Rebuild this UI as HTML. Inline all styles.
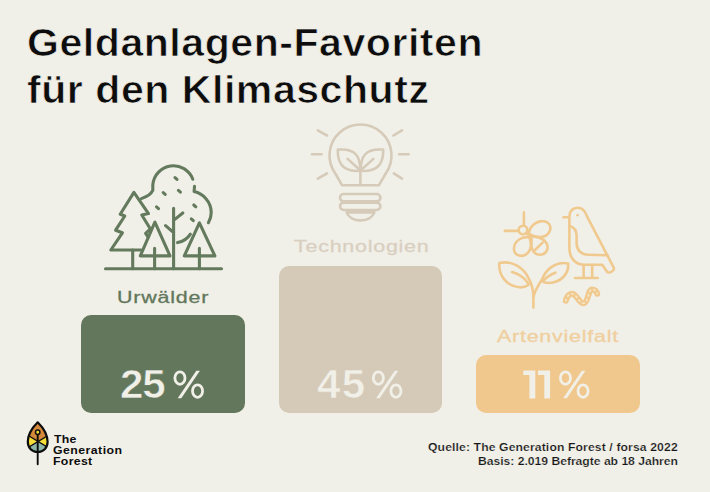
<!DOCTYPE html>
<html lang="de">
<head>
<meta charset="utf-8">
<title>Geldanlagen-Favoriten für den Klimaschutz</title>
<style>
  html, body { margin: 0; padding: 0; }
  body {
    width: 710px; height: 492px; overflow: hidden;
    background: #f1f0e8;
    font-family: "Liberation Sans", sans-serif;
    position: relative;
  }
  .t { position: absolute; white-space: nowrap; line-height: 1; transform-origin: 0 0; display: block; }
  .title { font-weight: bold; font-size: 38px; color: #0d0d0d; transform: scaleX(1.08); letter-spacing: 0.5px; -webkit-text-stroke: 0.7px #f1f0e8; }
  .bar { position: absolute; }
  .b1 { left: 81.2px; top: 314.8px; width: 164.1px; height: 98.6px; background: #62775b; border-radius: 10px; }
  .b2 { left: 279.1px; top: 265.8px; width: 162.8px; height: 147.6px; background: #d5c9b8; border-radius: 10px; }
  .b3 { left: 476.2px; top: 354.8px; width: 163.7px; height: 58.5px; background: #f0c78c; border-radius: 10px; }
  .lab { font-size: 16.5px; transform: scaleX(1.3); letter-spacing: 0.6px; -webkit-text-stroke: 0.3px currentColor; }
  .num { font-weight: bold; font-size: 40.5px; color: #f1f0e8; transform: scaleX(1.04); }
  .pct { font-weight: normal; font-size: 40px; color: transparent; transform: scaleX(0.95); }
  .ghost { color: transparent; }
  .src { font-weight: bold; font-size: 11.7px; color: #161616; transform: scaleX(1.04); letter-spacing: 0.12px; -webkit-text-stroke: 0.2px #f1f0e8; }
  .logo { font-weight: bold; font-size: 11.4px; color: #0d0d0d; transform: scaleX(1.08); letter-spacing: 0.3px; }
  svg { position: absolute; left: 0; top: 0; overflow: visible; }
</style>
</head>
<body>

<span class="t title" id="t1" style="left:27px; top:24.4px;">Geldanlagen-Favoriten</span>
<span class="t title" id="t2" style="left:26.8px; top:70.5px;">für den Klimaschutz</span>

<div class="bar b1"></div>
<div class="bar b2"></div>
<div class="bar b3"></div>

<span class="t lab" id="l1" style="left:116.7px; top:289.1px; letter-spacing:0.61px; color:#62775b;">Urwälder</span>
<span class="t lab" id="l2" style="left:293.6px; top:238px; letter-spacing:0.58px; color:#d9cfc1;">Technologien</span>
<span class="t lab" id="l3" style="left:497px; top:328.2px; letter-spacing:0.58px; color:#efcf9e;">Artenvielfalt</span>

<span class="t num" id="n1" style="left:120.4px; top:364.4px; letter-spacing:-1.04px; -webkit-text-stroke:0.6px #62775b;">25</span>
<span class="t pct" id="p1" style="left:172.2px; top:365.3px;">%</span>
<span class="t num" id="n2" style="left:316.9px; top:364.3px; letter-spacing:1.31px; -webkit-text-stroke:0.6px #d5c9b8;">45</span>
<span class="t pct" id="p2" style="left:370.6px; top:365.3px;">%</span>
<span class="t num ghost" id="n3" style="left:521.2px; top:365.2px; letter-spacing:-12px;">11</span>
<span class="t pct" id="p3" style="left:558px; top:365.3px;">%</span>

<span class="t src" id="s1" style="left:427.6px; top:441.4px; letter-spacing:0.12px;">Quelle: The Generation Forest / forsa 2022</span>
<span class="t src" id="s2" style="left:478.3px; top:455.2px; letter-spacing:-0.02px;">Basis: 2.019 Befragte ab 18 Jahren</span>

<span class="t logo" id="g1" style="left:53.6px; top:434.1px; letter-spacing:0.18px;">The</span>
<span class="t logo" id="g2" style="left:53.4px; top:445.3px; letter-spacing:0.42px;">Generation</span>
<span class="t logo" id="g3" style="left:53.1px; top:456.2px;">Forest</span>

<svg id="icons" width="710" height="492" viewBox="0 0 710 492">
  <!-- trees -->
  <g id="trees" fill="none" stroke="#647a5d" stroke-width="3.1" stroke-linecap="round" stroke-linejoin="round">
    <path d="M105.5 268.7 H221.5"/>
    <!-- big pine -->
    <path d="M141 250 H110.8 L122.4 232.8 L115.6 230.2 L124.8 216 L120.2 214.2 L133.9 192.4 L148.5 213.6 L141.8 215 L150.4 229 L145.6 233.4 L148.2 237.2"/>
    <path d="M132.7 250 V268.7"/>
    <!-- small tree 1 -->
    <path d="M154.9 222.2 L140.3 255.9 H170 Z"/>
    <path d="M154.6 248.4 V268.7"/>
    <!-- deciduous -->
    <path d="M173.6 208.4 V268.7 M173.6 232.6 L165.6 225.6 M173.6 220.4 L182.8 213"/>
    <path d="M141.4 198.6 Q150.4 195.6, 152.8 190.4 V184.9 A20.7 20.7 0 0 1 192.8 179.2"/>
    <path d="M194.5 186.4 L194.1 191.6 C203 193.6, 211.2 201.5, 211.2 212.7 C211.2 216.5, 210 220, 208.4 222.7"/>
    <path d="M177.6 242.6 C183 241.6, 187.6 238.6, 190.4 234.2"/>
    <!-- small tree 2 -->
    <path d="M199.4 222.8 L184.3 255.9 H214.9 Z"/>
    <path d="M199.4 248.4 V268.7"/>
    <!-- leaves -->
    <path d="M175 177.6 l2 1.8 M178.4 190.4 l2 1.8 M163.2 192.6 l2 1.8 M156.5 206.8 l2 1.8 M193.8 205 l2 1.8 M191.3 218.9 l2 1.8"/>
  </g>
  <!-- bulb -->
  <g id="bulb" fill="none" stroke="#d6cab9" stroke-width="2.6" stroke-linecap="round" stroke-linejoin="round">
    <path d="M342 185.2 L335.6 174 A31 31 0 1 1 385.4 174 L379 185.2 Z"/>
    <rect x="340" y="194" width="40.4" height="7.4" rx="3.7"/>
    <rect x="340" y="202.6" width="40.4" height="7.4" rx="3.7"/>
    <path d="M346.6 212.4 H374.4 C372.6 217.4, 367 220.4, 360.5 220.4 C354 220.4, 348.4 217.4, 346.6 212.4 Z"/>
    <path d="M360.4 185 V166"/>
    <path d="M337.8 149.6 C345 149, 352 150, 356 154.5 C359.5 158.5, 360.3 164, 360.3 170.8 C352 171.5, 344.5 169.5, 341 164 C338.5 160, 337.6 155, 337.8 149.6 Z"/>
    <path d="M383.2 149.6 C376 149, 369 150, 365 154.5 C361.5 158.5, 360.7 164, 360.7 170.8 C369 171.5, 376.5 169.5, 380 164 C382.5 160, 383.4 155, 383.2 149.6 Z"/>
    <path d="M347.6 158.9 L358.5 168.8 M373.4 158.9 L362.5 168.8"/>
    <path d="M312 154.3 H321.6 M399.2 154.3 H408.6 M317.8 130.3 L327 135.5 M393.4 135.5 L402 130.3 M317.8 178.6 L327 173.4 M393.8 173.4 L402 178.6"/>
  </g>
  <!-- biodiversity -->
  <g id="bio" fill="none" stroke="#f0c98f" stroke-width="2.6" stroke-linecap="round" stroke-linejoin="round">
    <!-- bee -->
    <circle cx="523" cy="230" r="4.3"/>
    <path d="M523.9 212.4 V225.6 M504.8 230.9 H518.6"/>
    <path d="M528.8 233.6 C529.5 226, 537 220.6, 543.6 221.2 C550.6 222, 552.2 229, 548.2 233.6 C544 238.4, 535 238, 528.8 233.6 Z"/>
    <path d="M529.4 237.4 C522 236, 514.6 241, 514 248 C513.6 254.6, 520 257.8, 525.6 254.6 C531.2 251.4, 532.2 244, 529.4 237.4 Z"/>
    <path d="M531.4 236.6 C536 236.2, 543 238, 546 242.4 C549.6 247.6, 546.6 254.4, 540.4 254.8 C534 255, 530.6 249, 531.6 243.4 Z"/>
    <path d="M526.4 233 L530.4 236.4 M535 250 L542.6 242.6"/>
    <!-- plant -->
    <path d="M533.4 307.4 V296 C533 288, 531 282, 528.5 278.2 C524 268, 512 260, 499.3 263 C498.5 275, 506 286, 519.4 287.3 C523 287.6, 526 286.6, 528.4 285"/>
    <path d="M512.1 272.1 C519 274, 524.5 278, 528.4 283.4"/>
    <path d="M533.4 297 C534.5 291, 538.5 285, 542 279.4 C546 269, 556 261, 568.2 263.5 C569 274, 561 282.5, 548.7 283 C546 283, 544 282.4, 542.4 281.4"/>
    <path d="M555.4 272.7 C550.5 274.5, 546.5 277, 543.4 280.4"/>
    <!-- bird -->
    <path d="M569.4 225.9 V216 C569.4 211, 573 207.8, 577.6 207.8 C582 207.8, 585 210.5, 586.6 215.6 L613.6 267.4 C615.4 270.6, 609.4 273.6, 607.2 272 L602.2 264.8 H585 C576 264.8, 569.4 259, 569.4 248 Z"/>
    <path d="M569.6 225.9 C574 227, 576.6 230, 576.6 236 V243.2 C576.6 250, 581 254.6, 588 254.8 L607.4 255.2"/>
    <path d="M563.4 217.3 H568.6"/>
    <path d="M583.6 265 V277.8 M592.2 265 V277.8 M575 278 H597.8"/>
    <circle cx="577.5" cy="215.2" r="0.9" fill="#f0c98f" stroke-width="1"/>
  </g>
  <!-- worm -->
  <path d="M565.8 300.8 C567 295, 571 292.6, 574 294.4 C578 297, 580 304, 584 303.2 C588.5 302, 588 289.6, 592 289.4 C595 289.4, 596.6 291.4, 597.2 293.8" fill="none" stroke="#f0c98f" stroke-width="6" stroke-linecap="round" stroke-linejoin="round"/>
  <path d="M565.8 300.8 C567 295, 571 292.6, 574 294.4 C578 297, 580 304, 584 303.2 C588.5 302, 588 289.6, 592 289.4 C595 289.4, 596.6 291.4, 597.2 293.8" fill="none" stroke="#f7e6c8" stroke-width="1.6" stroke-linecap="round" stroke-dasharray="1.5 3.4"/>
  <!-- "11" drawn as shapes (Liberation "1" has a foot serif) -->
  <g id="n3s" fill="#f1f0e8">
    <path d="M523.3 370.6 H535.3 V398.5 H529.4 V375.1 H523.3 Z"/>
    <path d="M537.9 370.6 H550.1 V398.5 H544.3 V375.1 H537.9 Z"/>
  </g>
  <!-- percent signs drawn as shapes (rounder than the Liberation glyph) -->
  <g fill="none" stroke="#f1f0e8" stroke-width="2.8" transform="translate(173.5 370.5)">
      <ellipse cx="6.45" cy="7.6" rx="5.05" ry="6.2"/>
      <ellipse cx="24.05" cy="20.6" rx="5.05" ry="6.2"/>
      <path d="M22.8 0.2 H26.4 L7.8 27.8 H4.2 Z" fill="#f1f0e8" stroke="none"/>
    </g>
  <g fill="none" stroke="#f1f0e8" stroke-width="2.8" transform="translate(371.9 370.5)">
      <ellipse cx="6.45" cy="7.6" rx="5.05" ry="6.2"/>
      <ellipse cx="24.05" cy="20.6" rx="5.05" ry="6.2"/>
      <path d="M22.8 0.2 H26.4 L7.8 27.8 H4.2 Z" fill="#f1f0e8" stroke="none"/>
    </g>
  <g fill="none" stroke="#f1f0e8" stroke-width="2.8" transform="translate(559 370.5)">
      <ellipse cx="6.45" cy="7.6" rx="5.05" ry="6.2"/>
      <ellipse cx="24.05" cy="20.6" rx="5.05" ry="6.2"/>
      <path d="M22.8 0.2 H26.4 L7.8 27.8 H4.2 Z" fill="#f1f0e8" stroke="none"/>
    </g>
  <!-- logo -->
  <g id="logo">
    <clipPath id="leafclip"><path d="M37.7 422.3 C32.5 427.5, 27.8 434.5, 27.8 441.8 C27.8 448, 32 452, 37.7 452 C43.4 452, 47.6 448, 47.6 441.8 C47.6 434.5, 42.9 427.5, 37.7 422.3 Z"/></clipPath>
    <g clip-path="url(#leafclip)">
      <rect x="20" y="415" width="36" height="45" fill="#d4883a"/>
      <path d="M37.7 441.3 L24 433 V450 Z M37.7 441.3 L52 433 V450 Z" fill="#f6de38"/>
      <path d="M37.7 441.3 L52 450 V460 H24 V450 Z" fill="#8fb5a6"/>
      <path d="M24 433 L52 450 M52 433 L24 450" stroke="#0d0d0d" stroke-width="1.3" fill="none"/>
    </g>
    <path d="M37.7 422.3 C32.5 427.5, 27.8 434.5, 27.8 441.8 C27.8 448, 32 452, 37.7 452 C43.4 452, 47.6 448, 47.6 441.8 C47.6 434.5, 42.9 427.5, 37.7 422.3 Z" fill="none" stroke="#0d0d0d" stroke-width="2.2" stroke-linejoin="round"/>
    <path d="M37.7 434 V464.3" stroke="#0d0d0d" stroke-width="1.9" stroke-linecap="round" fill="none"/>
    <circle cx="37.7" cy="432.3" r="2.2" fill="#f6de38" stroke="#0d0d0d" stroke-width="1.5"/>
  </g>
</svg>

</body>
</html>
